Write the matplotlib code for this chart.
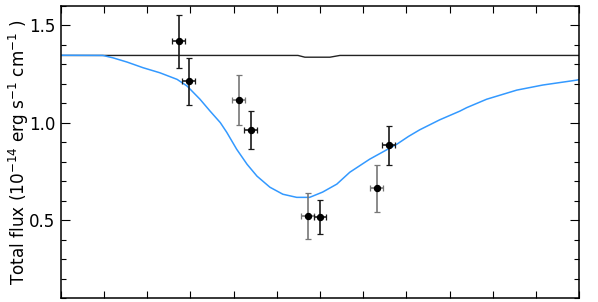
import numpy as np
import matplotlib
matplotlib.use("Agg")
import matplotlib.pyplot as plt
from matplotlib.ticker import MultipleLocator, NullFormatter

# data points (phase, flux, errors)
obs_x = [-0.327, -0.304, -0.188, -0.160, -0.028, 0.000, 0.131, 0.159]
obs_y = [1.418, 1.213, 1.115, 0.962, 0.521, 0.516, 0.664, 0.885]
obs_yerr = [0.135, 0.122, 0.128, 0.097, 0.118, 0.087, 0.120, 0.100]
obs_xerr = [0.015, 0.015, 0.015, 0.015, 0.015, 0.015, 0.015, 0.015]
obs_grey = [False, False, True, False, True, False, True, False]

# blue model curve
model_x = [-0.600, -0.503, -0.480, -0.447, -0.410, -0.371, -0.331, -0.308, -0.278,
           -0.255, -0.231, -0.216, -0.193, -0.169, -0.146, -0.116, -0.086, -0.054,
           -0.024, 0.006, 0.039, 0.069, 0.115, 0.178, 0.205, 0.231, 0.277, 0.324, 0.340,
           0.386, 0.456, 0.516, 0.594, 0.600]
model_y = [1.347, 1.346, 1.334, 1.312, 1.283, 1.257, 1.223, 1.189, 1.121,
           1.061, 1.001, 0.951, 0.864, 0.787, 0.726, 0.669, 0.633, 0.617,
           0.617, 0.644, 0.685, 0.746, 0.813, 0.890, 0.930, 0.964, 1.015, 1.060, 1.078,
           1.121, 1.168, 1.194, 1.219, 1.222]

# black reference line
ref_x = [-0.600, -0.051, -0.035, 0.023, 0.046, 0.600]
ref_y = [1.346, 1.346, 1.337, 1.337, 1.346, 1.346]

fig = plt.figure(figsize=(5.98, 3.02), dpi=100)
ax = fig.add_axes([61/598, 1-298/302, 518/598, 292/302])

ax.plot(ref_x, ref_y, color='#222222', lw=1.0)
ax.plot(model_x, model_y, color='#3399ff', lw=1.1)

for x, y, ye, xe, g in zip(obs_x, obs_y, obs_yerr, obs_xerr, obs_grey):
    c = '#777777' if g else '#1a1a1a'
    ax.errorbar([x], [y], yerr=[ye], xerr=[xe], fmt='o', color='black', ms=4.3,
                ecolor=c, elinewidth=1.2, capsize=2.2, capthick=0.9)

ax.set_xlim(-0.6, 0.6)
ax.set_ylim(0.1, 1.6)
ax.xaxis.set_major_locator(MultipleLocator(0.1))
ax.xaxis.set_major_formatter(NullFormatter())
ax.yaxis.set_major_locator(MultipleLocator(0.5))
ax.yaxis.set_minor_locator(MultipleLocator(0.1))
ax.tick_params(axis='both', which='both', direction='in', top=True, right=True,
               width=0.8, labelsize=12, pad=4)
ax.tick_params(axis='x', which='major', length=5)
ax.tick_params(axis='y', which='major', length=6.5)
ax.tick_params(axis='y', which='minor', length=3.8)
for s in ax.spines.values():
    s.set_linewidth(1.1)
ax.set_ylabel(r'Total flux ($10^{-14}$ erg s$^{-1}$ cm$^{-1}$ )', fontsize=12.2)
ax.yaxis.set_label_coords(-0.058, 0.5)

fig.savefig('out.png', dpi=100)
